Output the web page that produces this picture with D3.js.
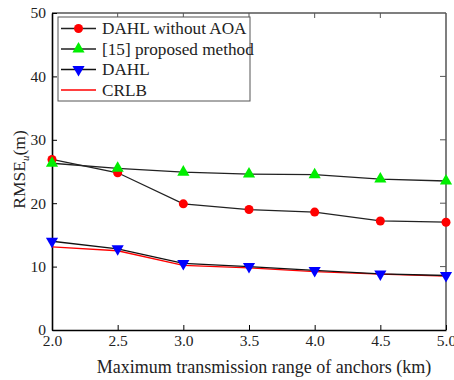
<!DOCTYPE html>
<html>
<head>
<meta charset="utf-8">
<script src="https://cdn.jsdelivr.net/npm/d3@7"></script>
<style>
  body { margin: 0; background: #fff; }
  svg text { font-family: "Liberation Serif", "Times New Roman", serif !important; }
</style>
</head>
<body>
<div id="chart"></div>
<script>
const ranges = [2.0, 2.5, 3.0, 3.5, 4.0, 4.5, 5.0];
const dahlNoAoa = [26.9, 24.8, 19.9, 19.0, 18.6, 17.2, 17.0];
const proposed15 = [26.3, 25.5, 24.9, 24.6, 24.5, 23.8, 23.5];
const dahl = [14.0, 12.8, 10.5, 10.0, 9.4, 8.85, 8.6];
const crlb = [13.1, 12.5, 10.2, 9.8, 9.2, 8.8, 8.5];
const xTicks = [2.0, 2.5, 3.0, 3.5, 4.0, 4.5, 5.0];
const yTicks = [0, 10, 20, 30, 40, 50];

const W = 454, H = 380;
const margin = { top: 13, right: 8, bottom: 50, left: 52 };
const width = W - margin.left - margin.right;
const height = H - margin.top - margin.bottom;

const svg = d3.select("#chart").append("svg")
  .attr("width", W).attr("height", H);
const g = svg.append("g")
  .attr("transform", `translate(${margin.left},${margin.top})`);

const x = d3.scaleLinear().domain([2, 5]).range([0, width]);
const y = d3.scaleLinear().domain([0, 50]).range([height, 0]);

// frame: top and right lighter
g.append("line").attr("x1", 0).attr("x2", width).attr("y1", 0).attr("y2", 0)
  .attr("stroke", "#555").attr("stroke-width", 1.5);
g.append("line").attr("x1", width).attr("x2", width).attr("y1", 0).attr("y2", height)
  .attr("stroke", "#555").attr("stroke-width", 1.5);

// inward ticks top and right
g.selectAll("t.top").data(xTicks.slice(1, -1)).enter().append("line")
  .attr("x1", d => x(d)).attr("x2", d => x(d)).attr("y1", 0).attr("y2", 5)
  .attr("stroke", "#555");
g.selectAll("t.right").data(yTicks.slice(1, -1)).enter().append("line")
  .attr("x1", width).attr("x2", width - 6).attr("y1", d => y(d)).attr("y2", d => y(d))
  .attr("stroke", "#555");

const xAxis = g.append("g").attr("transform", `translate(0,${height})`)
  .call(d3.axisBottom(x).tickValues(xTicks).tickFormat(d3.format(".1f")).tickSizeInner(-5).tickSizeOuter(0).tickPadding(5));
const yAxis = g.append("g")
  .call(d3.axisLeft(y).tickValues(yTicks).tickSizeInner(-5).tickSizeOuter(0).tickPadding(6));
[xAxis, yAxis].forEach(a => {
  a.select(".domain").attr("stroke", "#000").attr("stroke-width", 1.6);
  a.selectAll(".tick line").attr("stroke", "#000");
  a.selectAll("text").attr("font-size", 15.5).attr("fill", "#222");
});

// series
const series = [
  { name: "DAHL without AOA", vals: dahlNoAoa, line: "#222", mark: "circle", color: "#ff0000" },
  { name: "[15] proposed method", vals: proposed15, line: "#222", mark: "up", color: "#00ee00" },
  { name: "DAHL", vals: dahl, line: "#111", mark: "down", color: "#0000ff" },
  { name: "CRLB", vals: crlb, line: "#ff0000", mark: null, color: "#ff0000" }
];

const line = d3.line().x(d => x(d[0])).y(d => y(d[1]));
const symbolPath = (m) => {
  if (m === "circle") return d3.symbol(d3.symbolCircle, 64)();
  return d3.symbol(d3.symbolTriangle, 64)();
};

// draw CRLB first so DAHL line sits above
[series[3], series[0], series[1], series[2]].forEach(s => {
  g.append("path").datum(ranges.map((r, i) => [r, s.vals[i]]))
    .attr("d", line).attr("fill", "none")
    .attr("stroke", s.line).attr("stroke-width", 1.3);
});
series.forEach(s => {
  if (!s.mark) return;
  g.selectAll(null).data(ranges.map((r, i) => [r, s.vals[i]])).enter()
    .append("path")
    .attr("d", symbolPath(s.mark))
    .attr("transform", d => `translate(${x(d[0])},${y(d[1])})${s.mark === "down" ? " rotate(180)" : ""}`)
    .attr("fill", s.color);
});

// legend
const lg = g.append("g").attr("transform", "translate(6,4)");
lg.append("rect").attr("width", 192).attr("height", 84)
  .attr("fill", "#fff").attr("stroke", "#555").attr("stroke-width", 1);
series.forEach((s, i) => {
  const yy = 11.5 + i * 20.5;
  lg.append("line").attr("x1", 3).attr("x2", 38).attr("y1", yy).attr("y2", yy)
    .attr("stroke", s.line).attr("stroke-width", 1.3);
  if (s.mark) {
    lg.append("path").attr("d", symbolPath(s.mark))
      .attr("transform", `translate(20.5,${yy})${s.mark === "down" ? " rotate(180)" : ""}`)
      .attr("fill", s.color);
  }
  lg.append("text").attr("x", 44).attr("y", yy + 5.5)
    .attr("font-size", 17.2).attr("fill", "#222").text(s.name);
});

// axis titles
svg.append("text").attr("x", 264).attr("y", 373)
  .attr("text-anchor", "middle").attr("font-size", 18).attr("fill", "#222")
  .text("Maximum transmission range of anchors (km)");

const yt = svg.append("text")
  .attr("transform", `translate(25,${margin.top + height / 2 - 2}) rotate(-90)`)
  .attr("text-anchor", "middle").attr("font-size", 17.5).attr("fill", "#222");
yt.append("tspan").text("RMSE");
yt.append("tspan").attr("font-style", "italic").attr("font-size", 11).attr("dy", 4).text("u");
yt.append("tspan").attr("dy", -4).text("(m)");
</script>
</body>
</html>
